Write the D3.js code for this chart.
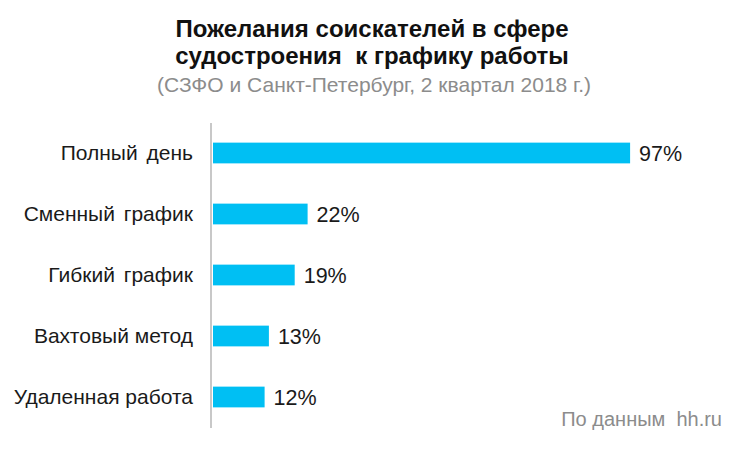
<!DOCTYPE html>
<html><head><meta charset="utf-8">
<script src="https://cdn.jsdelivr.net/npm/d3@7"></script>
<style>body{margin:0;background:#fff}svg{display:block;font-family:"Liberation Sans",Arial,sans-serif}text{white-space:pre}</style>
</head><body>
<svg id="c" width="750" height="450"></svg>
<script>
const categories = ["Полный день","Сменный график","Гибкий график","Вахтовый метод","Удаленная работа"];
const values = [97,22,19,13,12];
const titleLines = ["Пожелания соискателей в сфере","судостроения  к графику работы"];
const subtitle = "(СЗФО и Санкт-Петербург, 2 квартал 2018 г.)";
const source = "По данным  hh.ru";

const svg = d3.select("#c");
const x = d3.scaleLinear().domain([0,100]).range([213,643]);
const y = d3.scaleBand().domain(categories).range([122.5,427.5]).paddingInner(0.66).paddingOuter(0.33);

svg.selectAll(".t").data(titleLines).enter().append("text")
  .attr("x",372).attr("y",(d,i)=>37+i*27).attr("text-anchor","middle")
  .attr("font-size",24).attr("font-weight","bold").attr("fill","#111").text(d=>d);
svg.append("text").attr("x",374).attr("y",92).attr("text-anchor","middle")
  .attr("font-size",21).attr("fill","#8c8c8c").text(subtitle);

svg.selectAll(".bar").data(values).enter().append("rect")
  .attr("x",x(0)).attr("y",(d,i)=>y(categories[i]))
  .attr("width",d=>x(d)-x(0)).attr("height",y.bandwidth())
  .attr("fill","#00bff3");

svg.selectAll(".v").data(values).enter().append("text")
  .attr("x",d=>x(d)+9).attr("y",(d,i)=>y(categories[i])+y.bandwidth()/2)
  .attr("dy","0.36em").attr("font-size",21.5).attr("fill","#1a1a1a").text(d=>d+"%");

const ax = svg.append("g").attr("transform",`translate(${x(0)-2},0)`)
  .call(d3.axisLeft(y).tickSize(0).tickPadding(18));
ax.select(".domain").attr("stroke","#c8c8c8").attr("stroke-width",2)
  .attr("d",`M0,123V428`);
ax.selectAll("text").attr("font-size",21).attr("fill","#1a1a1a")
  .attr("font-family","'Liberation Sans',Arial,sans-serif")
  .style("word-spacing",(d,i)=>i<3?"3px":"0px");

svg.append("text").attr("x",722).attr("y",426).attr("text-anchor","end")
  .attr("font-size",20).attr("fill","#8c8c8c").text(source);
</script>
</body></html>
